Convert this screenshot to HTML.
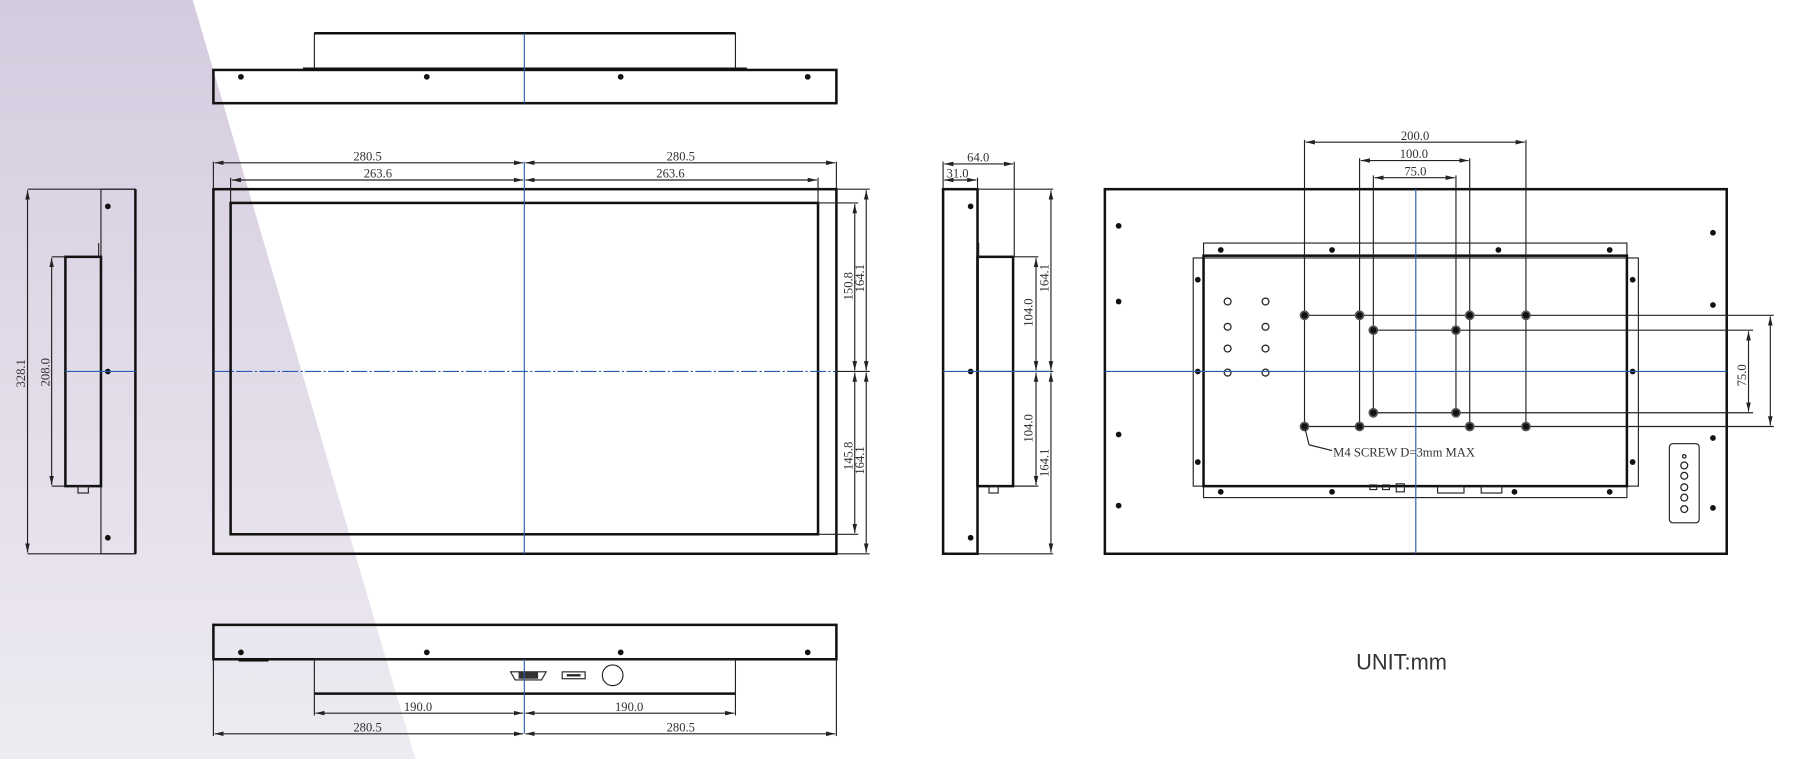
<!DOCTYPE html>
<html><head><meta charset="utf-8"><style>
html,body{margin:0;padding:0;background:#fff;width:1799px;height:759px;overflow:hidden}
svg{display:block}
text{font-family:"Liberation Serif",serif;font-size:11px;fill:#333}
.k{stroke:#111;fill:none;stroke-width:2.2}
.t{stroke:#222;fill:none;stroke-width:1}
.b{stroke:#2a5db0;stroke-width:1;fill:none}
.d{fill:#111}
.o{fill:#fff;stroke:#222;stroke-width:1.1}
</style></head><body>
<svg width="1799" height="759" viewBox="0 0 1568 662" preserveAspectRatio="none" xmlns="http://www.w3.org/2000/svg">
<defs>
<linearGradient id="g" x1="0" y1="0" x2="0" y2="1"><stop offset="0" stop-color="#d5cbdf"/><stop offset="1" stop-color="#eeebf2"/></linearGradient>
<marker id="a" markerWidth="8" markerHeight="6" refX="8" refY="3" orient="auto-start-reverse" markerUnits="userSpaceOnUse"><path d="M0,1 L8,3 L0,5z" fill="#222"/></marker>
</defs>
<polygon points="0,0 168,0 362,662 0,662" fill="url(#g)"/>

<!-- TOP VIEW -->
<rect x="274" y="29" width="367" height="31" class="t" stroke-width="1.5"/>
<line x1="274" y1="29" x2="641" y2="29" class="k"/>
<rect x="186" y="61" width="543" height="29" class="k"/>
<line x1="264" y1="60" x2="651" y2="60" class="k"/>
<line x1="457" y1="29" x2="457" y2="90" class="b"/>
<g class="d"><circle cx="210" cy="67" r="2.5"/><circle cx="372" cy="67" r="2.5"/><circle cx="541" cy="67" r="2.5"/><circle cx="704" cy="67" r="2.5"/></g>

<!-- FRONT VIEW -->
<rect x="186" y="165" width="543" height="318" class="k"/>
<rect x="201" y="177" width="512" height="289" class="k"/>
<line x1="186" y1="141" x2="186" y2="165" class="t"/><line x1="729" y1="141" x2="729" y2="165" class="t"/>
<line x1="201" y1="155" x2="201" y2="177" class="t"/><line x1="713" y1="155" x2="713" y2="177" class="t"/>
<line x1="187" y1="142" x2="456" y2="142" class="t" marker-start="url(#a)" marker-end="url(#a)"/>
<line x1="458" y1="142" x2="728" y2="142" class="t" marker-start="url(#a)" marker-end="url(#a)"/>
<line x1="202" y1="157" x2="456" y2="157" class="t" marker-start="url(#a)" marker-end="url(#a)"/>
<line x1="458" y1="157" x2="712" y2="157" class="t" marker-start="url(#a)" marker-end="url(#a)"/>
<text x="308" y="140">280.5</text><text x="581" y="140">280.5</text>
<text x="317" y="155">263.6</text><text x="572" y="155">263.6</text>
<line x1="713" y1="177" x2="748" y2="177" class="t"/><line x1="713" y1="466" x2="748" y2="466" class="t"/>
<line x1="729" y1="165" x2="758" y2="165" class="t"/><line x1="729" y1="483" x2="758" y2="483" class="t"/>
<line x1="729" y1="324" x2="758" y2="324" class="t"/>
<line x1="745" y1="178" x2="745" y2="323" class="t" marker-start="url(#a)" marker-end="url(#a)"/>
<line x1="745" y1="325" x2="745" y2="465" class="t" marker-start="url(#a)" marker-end="url(#a)"/>
<line x1="755" y1="166" x2="755" y2="323" class="t" marker-start="url(#a)" marker-end="url(#a)"/>
<line x1="755" y1="325" x2="755" y2="482" class="t" marker-start="url(#a)" marker-end="url(#a)"/>
<text transform="translate(743,262) rotate(-90)">150.8</text><text transform="translate(753,255) rotate(-90)">164.1</text>
<text transform="translate(743,410) rotate(-90)">145.8</text><text transform="translate(753,414) rotate(-90)">164.1</text>
<line x1="457" y1="141" x2="457" y2="483" class="b"/>
<line x1="186" y1="324" x2="729" y2="324" class="b" stroke-dasharray="14 2 2 2"/>

<!-- LEFT SIDE -->
<rect x="88" y="165" width="30" height="318" class="t" stroke-width="1.5"/>
<line x1="118" y1="165" x2="118" y2="483" class="k"/>
<rect x="57" y="224" width="31" height="200" class="k"/>
<line x1="86" y1="212" x2="86" y2="224" class="t"/>
<rect x="68" y="424" width="9" height="6" class="t"/>
<line x1="24" y1="165" x2="118" y2="165" class="t"/><line x1="24" y1="483" x2="118" y2="483" class="t"/>
<line x1="45" y1="224" x2="57" y2="224" class="t"/><line x1="45" y1="424" x2="57" y2="424" class="t"/>
<line x1="24" y1="166" x2="24" y2="482" class="t" marker-start="url(#a)" marker-end="url(#a)"/>
<line x1="45" y1="225" x2="45" y2="423" class="t" marker-start="url(#a)" marker-end="url(#a)"/>
<text transform="translate(22,338) rotate(-90)">328.1</text><text transform="translate(43,337) rotate(-90)">208.0</text>
<g class="d"><circle cx="94" cy="180" r="2.5"/><circle cx="94" cy="324" r="2.5"/><circle cx="94" cy="469" r="2.5"/></g>
<line x1="57" y1="324" x2="118" y2="324" class="b"/>

<!-- MIDDLE SIDE -->
<rect x="822" y="165" width="30" height="318" class="k" stroke-width="1.5"/>
<rect x="852" y="224" width="31" height="200" class="k"/>
<line x1="853" y1="212" x2="853" y2="224" class="t"/>
<rect x="862" y="424" width="8" height="6" class="t"/>
<line x1="822" y1="141" x2="822" y2="165" class="t"/><line x1="884" y1="141" x2="884" y2="224" class="t"/><line x1="852" y1="155" x2="852" y2="165" class="t"/>
<line x1="823" y1="143" x2="883" y2="143" class="t" marker-start="url(#a)" marker-end="url(#a)"/>
<line x1="823" y1="157" x2="851" y2="157" class="t" marker-start="url(#a)" marker-end="url(#a)"/>
<text x="843" y="141">64.0</text><text x="825" y="155">31.0</text>
<line x1="852" y1="165" x2="918" y2="165" class="t"/><line x1="852" y1="483" x2="918" y2="483" class="t"/>
<line x1="883" y1="224" x2="905" y2="224" class="t"/><line x1="883" y1="424" x2="905" y2="424" class="t"/>
<line x1="852" y1="324" x2="918" y2="324" class="t"/>
<line x1="903" y1="225" x2="903" y2="323" class="t" marker-start="url(#a)" marker-end="url(#a)"/>
<line x1="903" y1="325" x2="903" y2="423" class="t" marker-start="url(#a)" marker-end="url(#a)"/>
<line x1="916" y1="166" x2="916" y2="323" class="t" marker-start="url(#a)" marker-end="url(#a)"/>
<line x1="916" y1="325" x2="916" y2="482" class="t" marker-start="url(#a)" marker-end="url(#a)"/>
<text transform="translate(900,285) rotate(-90)">104.0</text><text transform="translate(900,386) rotate(-90)">104.0</text>
<text transform="translate(914,255) rotate(-90)">164.1</text><text transform="translate(914,416) rotate(-90)">164.1</text>
<g class="d"><circle cx="846" cy="180" r="2.5"/><circle cx="846" cy="324" r="2.5"/><circle cx="846" cy="469" r="2.5"/></g>
<line x1="822" y1="324" x2="916" y2="324" class="b"/>

<!-- REAR VIEW -->
<rect x="963" y="165" width="542" height="318" class="k" stroke-width="2.8"/>
<rect x="1049" y="212" width="369" height="222" class="t" stroke-width="1.2"/>
<rect x="1040" y="225" width="388" height="199" class="t" stroke-width="1.2"/>
<rect x="1049" y="223" width="369" height="201" class="k"/>
<g class="d">
<circle cx="975" cy="197" r="2.5"/><circle cx="975" cy="263" r="2.5"/><circle cx="975" cy="379" r="2.5"/><circle cx="975" cy="441" r="2.5"/>
<circle cx="1493" cy="203" r="2.5"/><circle cx="1493" cy="266" r="2.5"/><circle cx="1493" cy="382" r="2.5"/><circle cx="1493" cy="443" r="2.5"/>
<circle cx="1064" cy="218" r="2.5"/><circle cx="1161" cy="218" r="2.5"/><circle cx="1306" cy="218" r="2.5"/><circle cx="1403" cy="218" r="2.5"/>
<circle cx="1064" cy="429" r="2.5"/><circle cx="1161" cy="429" r="2.5"/><circle cx="1320" cy="429" r="2.5"/><circle cx="1403" cy="429" r="2.5"/>
<circle cx="1044" cy="244" r="2.5"/><circle cx="1044" cy="324" r="2.5"/><circle cx="1044" cy="403" r="2.5"/>
<circle cx="1423" cy="244" r="2.5"/><circle cx="1423" cy="324" r="2.5"/><circle cx="1423" cy="403" r="2.5"/>
</g>
<g class="o">
<circle cx="1070" cy="263" r="3"/><circle cx="1103" cy="263" r="3"/><circle cx="1070" cy="285" r="3"/><circle cx="1103" cy="285" r="3"/>
<circle cx="1070" cy="304" r="3"/><circle cx="1103" cy="304" r="3"/><circle cx="1070" cy="325" r="3"/><circle cx="1103" cy="325" r="3"/>
</g>
<!-- VESA lines -->
<line x1="1137" y1="122" x2="1137" y2="372" class="t"/><line x1="1330" y1="122" x2="1330" y2="372" class="t"/>
<line x1="1185" y1="138" x2="1185" y2="372" class="t"/><line x1="1281" y1="138" x2="1281" y2="372" class="t"/>
<line x1="1197" y1="153" x2="1197" y2="360" class="t"/><line x1="1269" y1="153" x2="1269" y2="360" class="t"/>
<line x1="1138" y1="124" x2="1329" y2="124" class="t" marker-start="url(#a)" marker-end="url(#a)"/>
<line x1="1186" y1="140" x2="1280" y2="140" class="t" marker-start="url(#a)" marker-end="url(#a)"/>
<line x1="1198" y1="155" x2="1268" y2="155" class="t" marker-start="url(#a)" marker-end="url(#a)"/>
<text x="1221" y="122">200.0</text><text x="1220" y="138">100.0</text><text x="1224" y="153">75.0</text>
<line x1="1137" y1="275" x2="1546" y2="275" class="t"/><line x1="1137" y1="372" x2="1546" y2="372" class="t"/>
<line x1="1197" y1="288" x2="1528" y2="288" class="t"/><line x1="1197" y1="360" x2="1528" y2="360" class="t"/>
<line x1="1543" y1="276" x2="1543" y2="371" class="t" marker-start="url(#a)" marker-end="url(#a)"/>
<line x1="1524" y1="289" x2="1524" y2="359" class="t" marker-start="url(#a)" marker-end="url(#a)"/>
<text transform="translate(1522,337) rotate(-90)">75.0</text>
<g class="d" stroke="#555" stroke-width="1.5">
<circle cx="1137" cy="275" r="3.5"/><circle cx="1185" cy="275" r="3.5"/><circle cx="1281" cy="275" r="3.5"/><circle cx="1330" cy="275" r="3.5"/>
<circle cx="1137" cy="372" r="3.5"/><circle cx="1185" cy="372" r="3.5"/><circle cx="1281" cy="372" r="3.5"/><circle cx="1330" cy="372" r="3.5"/>
<circle cx="1197" cy="288" r="3.5"/><circle cx="1269" cy="288" r="3.5"/><circle cx="1197" cy="360" r="3.5"/><circle cx="1269" cy="360" r="3.5"/>
</g>
<polyline points="1137,372 1141,388 1161,393" class="t"/>
<text x="1162" y="398">M4 SCREW D=3mm MAX</text>
<g class="t"><rect x="1194" y="423" width="6" height="4"/><rect x="1205" y="423" width="6" height="4"/><rect x="1217" y="422" width="7" height="7"/><rect x="1253" y="424" width="23" height="6"/><rect x="1291" y="424" width="18" height="6"/></g>
<rect x="1455" y="387" width="26" height="69" rx="3" class="t" stroke-width="1.3"/>
<g class="o"><circle cx="1468" cy="398" r="1.5"/><circle cx="1468" cy="406" r="3"/><circle cx="1468" cy="415" r="3"/><circle cx="1468" cy="425" r="3"/><circle cx="1468" cy="434" r="3"/><circle cx="1468" cy="444" r="3"/></g>
<line x1="1234" y1="165" x2="1234" y2="483" class="b"/>
<line x1="963" y1="324" x2="1505" y2="324" class="b"/>

<!-- BOTTOM VIEW -->
<rect x="186" y="545" width="543" height="30" class="k"/>
<line x1="264" y1="575" x2="651" y2="575" class="k"/>
<rect x="274" y="575" width="367" height="30" class="t" stroke-width="1.5"/>
<line x1="274" y1="605" x2="641" y2="605" class="k"/>
<g class="d"><circle cx="210" cy="569" r="2.5"/><circle cx="372" cy="569" r="2.5"/><circle cx="541" cy="569" r="2.5"/><circle cx="704" cy="569" r="2.5"/></g>
<rect x="208" y="574" width="26" height="3" class="d"/>
<path d="M445,586 h31 l-4,7 h-23z" class="t" stroke-width="1.3"/>
<rect x="452" y="586" width="17" height="6" fill="#333"/>
<rect x="490" y="586" width="20" height="6" class="t" stroke-width="1.5"/><rect x="494" y="588" width="12" height="2" fill="#222"/>
<circle cx="534" cy="589" r="9" class="t"/>
<line x1="274" y1="605" x2="274" y2="624" class="t"/><line x1="641" y1="605" x2="641" y2="624" class="t"/>
<line x1="186" y1="575" x2="186" y2="642" class="t"/><line x1="729" y1="575" x2="729" y2="642" class="t"/>
<line x1="275" y1="622" x2="456" y2="622" class="t" marker-start="url(#a)" marker-end="url(#a)"/>
<line x1="458" y1="622" x2="640" y2="622" class="t" marker-start="url(#a)" marker-end="url(#a)"/>
<line x1="187" y1="640" x2="456" y2="640" class="t" marker-start="url(#a)" marker-end="url(#a)"/>
<line x1="458" y1="640" x2="728" y2="640" class="t" marker-start="url(#a)" marker-end="url(#a)"/>
<text x="352" y="620">190.0</text><text x="536" y="620">190.0</text>
<text x="308" y="638">280.5</text><text x="581" y="638">280.5</text>
<line x1="457" y1="575" x2="457" y2="640" class="b"/>

<text x="1182" y="584" style="font-family:'Liberation Sans',sans-serif;font-size:19px;fill:#333">UNIT:mm</text>
</svg>
</body></html>
